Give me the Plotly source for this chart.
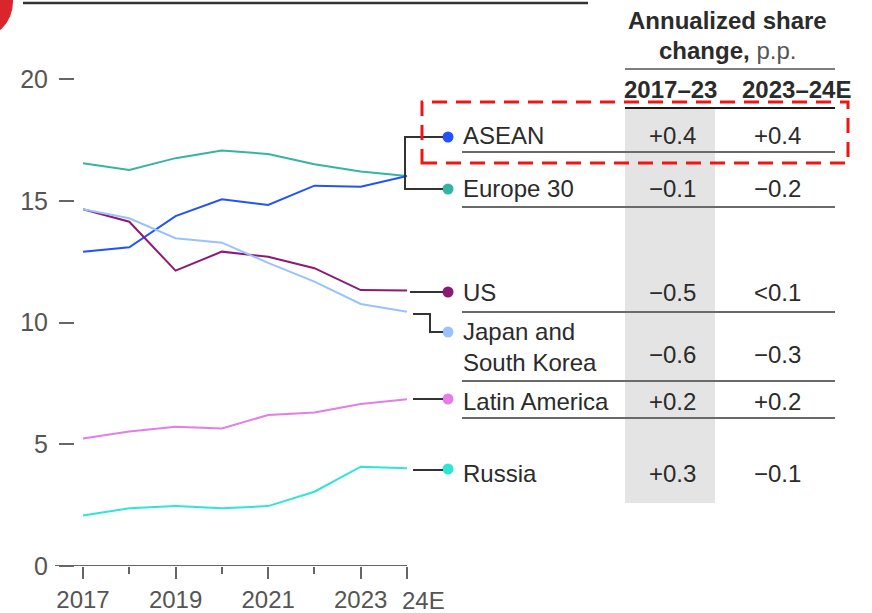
import plotly.graph_objects as go

# ---------------- data ----------------
years = [2017, 2018, 2019, 2020, 2021, 2022, 2023, 2024]
europe30 = [16.54, 16.26, 16.75, 17.06, 16.92, 16.50, 16.20, 16.02]
asean = [12.91, 13.09, 14.37, 15.06, 14.83, 15.62, 15.58, 16.02]
us = [14.65, 14.14, 12.13, 12.91, 12.70, 12.23, 11.33, 11.31]
japan_korea = [14.65, 14.28, 13.46, 13.28, 12.45, 11.68, 10.76, 10.44]
latin_america = [5.24, 5.52, 5.72, 5.65, 6.20, 6.30, 6.65, 6.85]
russia = [2.07, 2.37, 2.46, 2.37, 2.46, 3.05, 4.08, 4.01]

region_labels = ["ASEAN", "Europe 30", "US", "Japan and<br>South Korea", "Latin America", "Russia"]
change_2017_23 = ["+0.4", "−0.1", "−0.5", "−0.6", "+0.2", "+0.3"]
change_2023_24 = ["+0.4", "−0.2", "&lt;0.1", "−0.3", "+0.2", "−0.1"]

x_tick_vals = [2017, 2019, 2021, 2023, 2024]
x_tick_text = ["2017", "2019", "2021", "2023", ""]
x_minor_vals = [2018, 2020, 2022]
y_tick_vals = [0, 5, 10, 15, 20]

series = [
    ("Europe 30", europe30, "#35b4a4"),
    ("ASEAN", asean, "#2251ff"),
    ("US", us, "#8c1a74"),
    ("Japan and South Korea", japan_korea, "#99c2ff"),
    ("Latin America", latin_america, "#e47de8"),
    ("Russia", russia, "#2ee6d6"),
]

# ---------------- layout geometry (pixels) ----------------
FW, FH = 872, 613
L, R, T, B = 75, 410, 10, 566
W, H = R - L, B - T
FONT = "Liberation Sans, Arial, sans-serif"
DARK = "#2b2b2b"


def px(x):
    return (x - L) / W


def py(y):
    return (B - y) / H


fig = go.Figure()
for name, vals, col in series:
    fig.add_trace(go.Scatter(x=years, y=vals, mode="lines", name=name,
                             line=dict(color=col, width=2), hoverinfo="skip"))

shapes = []
annotations = []

# top rule and red corner mark
shapes.append(dict(type="line", xref="paper", yref="paper", x0=px(23), x1=px(588),
                   y0=py(3), y1=py(3), line=dict(color="#333333", width=2.5)))
shapes.append(dict(type="circle", xref="paper", yref="paper", x0=px(-61), x1=px(13),
                   y0=py(39), y1=py(-35), fillcolor="#d9252b", line=dict(width=0)))

# x axis line
shapes.append(dict(type="line", xref="paper", yref="y", x0=px(55), x1=px(407),
                   y0=0, y1=0, line=dict(color="#666666", width=2)))

# grey column
shapes.append(dict(type="rect", xref="paper", yref="paper", x0=px(625), x1=px(715),
                   y0=py(503), y1=py(108), fillcolor="#e4e4e4", line=dict(width=0),
                   layer="below"))

# header
annotations.append(dict(text="<b>Annualized share</b>", x=px(727), y=py(21)))
annotations.append(dict(text="<b>change,</b> <span style='color:#555555'>p.p.</span>",
                        x=px(727), y=py(50)))
shapes.append(dict(type="line", xref="paper", yref="paper", x0=px(625), x1=px(835),
                   y0=py(69), y1=py(69), line=dict(color="#555555", width=1.5)))
annotations.append(dict(text="<b>2017–23</b>", x=px(670), y=py(89)))
annotations.append(dict(text="<b>2023–24E</b>", x=px(797), y=py(89)))
shapes.append(dict(type="line", xref="paper", yref="paper", x0=px(625), x1=px(835),
                   y0=py(108), y1=py(108), line=dict(color="#1a1a1a", width=2)))

# rows
label_y = [135, 188, 293, 347, 401, 473]
value_y = [135, 188, 293, 355, 401, 473]
dot_y = [137, 189, 292, 332, 399, 469]
sep_y = [152, 207, 312, 381, 418]
dot_cols = ["#2251ff", "#35b4a4", "#8c1a74", "#99c2ff", "#e47de8", "#2ee6d6"]

for lab, v1, v2, ly, vy in zip(region_labels, change_2017_23, change_2023_24, label_y, value_y):
    annotations.append(dict(text=lab, x=px(461), y=py(ly), xanchor="left", align="left"))
    annotations.append(dict(text=v1, x=px(672), y=py(vy)))
    annotations.append(dict(text=v2, x=px(778), y=py(vy)))

for sy in sep_y:
    shapes.append(dict(type="line", xref="paper", yref="paper", x0=px(462), x1=px(835),
                       y0=py(sy), y1=py(sy), line=dict(color="#6a6a6a", width=2)))

for dy, dc in zip(dot_y, dot_cols):
    shapes.append(dict(type="circle", xref="paper", yref="paper", x0=px(442.5), x1=px(453.5),
                       y0=py(dy + 5.5), y1=py(dy - 5.5), fillcolor=dc, line=dict(width=0)))

# connectors
conn = [
    [(443, 137), (405, 137), (405, 189), (443, 189)],
    [(410, 292), (443, 292)],
    [(413, 314), (430, 314), (430, 332), (443, 332)],
    [(413, 399), (443, 399)],
    [(413, 470), (443, 470)],
]
for pts in conn:
    path = "M " + " L ".join(f"{px(a):.5f},{py(b):.5f}" for a, b in pts)
    shapes.append(dict(type="path", xref="paper", yref="paper", path=path,
                       line=dict(color="#333333", width=2)))

# red dashed highlight box
shapes.append(dict(type="rect", xref="paper", yref="paper", x0=px(422), x1=px(848),
                   y0=py(163), y1=py(102), line=dict(color="#f01515", width=3, dash="15px,9px"),
                   fillcolor="rgba(0,0,0,0)"))

# "24E" label
annotations.append(dict(text="24E", x=2024, xref="x", y=py(600), xanchor="left", xshift=-7,
                        font=dict(color="#555555", size=24, family=FONT)))

for a in annotations:
    a.setdefault("xref", "paper")
    a.setdefault("yref", "paper")
    a.setdefault("showarrow", False)
    a.setdefault("xanchor", "center")
    a.setdefault("yanchor", "middle")
    a.setdefault("font", dict(color=DARK, size=24, family=FONT))

x0 = 2017 - (83 - L) / ((407 - 83) / 7)
x1 = 2024 + (R - 407) / ((407 - 83) / 7)

fig.update_layout(
    width=FW, height=FH, autosize=False,
    margin=dict(l=L, r=FW - R, t=T, b=FH - B, pad=0, autoexpand=False),
    plot_bgcolor="white", paper_bgcolor="white",
    showlegend=False,
    font=dict(family=FONT, size=24, color="#555555"),
    shapes=shapes, annotations=annotations,
    xaxis=dict(range=[x0, x1], showgrid=False, zeroline=False, showline=False,
               automargin=False,
               tickmode="array", tickvals=x_tick_vals, ticktext=x_tick_text,
               ticks="outside", ticklen=12, tickwidth=2, tickcolor="#666666",
               tickangle=0, tickfont=dict(size=24, color="#555555"),
               minor=dict(tickmode="array", tickvals=x_minor_vals, ticks="outside",
                          ticklen=7, tickwidth=2, tickcolor="#666666")),
    yaxis=dict(range=[0, H / 24.35], showgrid=False, zeroline=False, showline=False,
               automargin=False,
               tickmode="array", tickvals=y_tick_vals,
               ticks="outside", ticklen=15, tickwidth=2, tickcolor="#666666",
               ticklabelstandoff=6, tickfont=dict(size=25, color="#555555")),
)

fig.write_html("out.html", config={"displayModeBar": False},
               post_script="document.body.style.margin='0px';document.body.style.overflow='hidden';")
